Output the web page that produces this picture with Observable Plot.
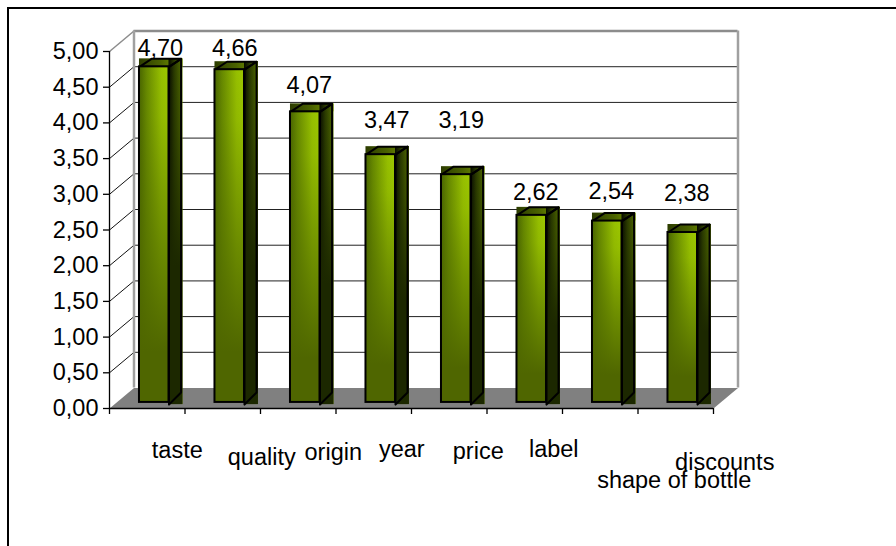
<!DOCTYPE html>
<html>
<head>
<meta charset="utf-8">
<script src="https://cdn.jsdelivr.net/npm/d3@7"></script>
<script src="https://cdn.jsdelivr.net/npm/@observablehq/plot@0.6"></script>
<style>
  html, body { margin: 0; padding: 0; background: #fff; overflow: hidden; }
  #page { position: relative; width: 896px; height: 546px; }
  #frame { position: absolute; left: 7px; top: 7px; right: 0; bottom: 0; border-left: 2.5px solid #000; border-top: 2.5px solid #000; }
  #chart { position: absolute; left: 0; top: 0; }
  #chart svg { display: block; overflow: visible; }
</style>
</head>
<body>
<div id="page"><div id="frame"></div><div id="chart"></div></div>
<script>
// Survey scores per wine attribute
const categories = ["taste", "quality", "origin", "year", "price", "label", "shape of bottle", "discounts"];
const scores = [4.70, 4.66, 4.07, 3.47, 3.19, 2.62, 2.54, 2.38];
const gridValues = [0, 0.5, 1, 1.5, 2, 2.5, 3, 3.5, 4, 4.5, 5];

// Hand placed label offsets, in pixels
const valueLabelDx = [13, 12, 11, 13, 12, 11, 11, 11];
const valueLabelDy = [-24, -27, -32, -40, -60, -29, -36, -45];
const categoryLabelDx = [30, 39, 35, 28, 29, 29, 74, 49];
const categoryLabelDy = [42, 49, 44, 41, 43, 41, 72, 54];

// Oblique projection, in scale units: one step of x is a category, one of y a score
const wallDx = 0.3245, wallDy = 0.287;
const barLeft = 0.397, barRight = 0.788, baseLift = 0.085;
const sideDx = 0.16, topLift = 0.112, sideDrop = 0.03, sideRise = 0.14, panelBleed = 0.025;

const comma = v => v.toFixed(2).replace(".", ",");
const xMax = categories.length;

const bars = scores.map((value, i) => ({
  id: i,
  name: categories[i],
  value,
  x1: i + barLeft,
  x2: i + barRight,
  x3: i + barRight + sideDx,
  x4: i + barRight + sideDx + panelBleed,
  base: baseLift,
  top: value + baseLift,
  back: value + baseLift + topLift
}));

const sideFaces = bars.flatMap(b => [
  {id: b.id, x: b.x2, y: b.top},
  {id: b.id, x: b.x3, y: b.back},
  {id: b.id, x: b.x3, y: b.base + sideRise},
  {id: b.id, x: b.x2, y: b.base - sideDrop}
]);
const topFaces = bars.flatMap(b => [
  {id: b.id, x: b.x1, y: b.top},
  {id: b.id, x: b.x1 + sideDx, y: b.back},
  {id: b.id, x: b.x3, y: b.back},
  {id: b.id, x: b.x2, y: b.top}
]);
const floor = [
  {x: 0, y: 0},
  {x: xMax, y: 0},
  {x: xMax + wallDx, y: wallDy},
  {x: wallDx, y: wallDy}
];

// Shading for the faces of the bars
function gradients() {
  const defs = d3.create("svg:defs");
  const add = (id, stops, vertical) => {
    const g = defs.append("linearGradient").attr("id", id)
      .attr("x1", 0).attr("y1", 0)
      .attr("x2", vertical ? 0 : 1).attr("y2", vertical ? 1 : 0);
    for (const [offset, color, opacity] of stops) {
      g.append("stop").attr("offset", offset).attr("stop-color", color)
        .attr("stop-opacity", opacity === undefined ? 1 : opacity);
    }
  };
  add("frontLight", [[0, "#486400"], [0.25, "#668800"], [0.75, "#96bf00"], [1, "#9dc800"]]);
  add("frontFade", [[0, "#4f6800", 0], [0.15, "#4f6800", 0.08], [0.55, "#526c00", 0.65], [0.85, "#4f6600", 1], [1, "#4f6600", 1]], true);
  add("sideLight", [[0, "#050800"], [0.4, "#2a3a00"], [0.85, "#4a6200"], [1, "#6a8c00"]]);
  add("sideFade", [[0, "#1c2800", 0], [0.2, "#1c2800", 0.25], [0.6, "#1c2800", 1], [1, "#1c2800", 1]], true);
  add("topLight", [[0, "#2c3c00"], [0.5, "#4a6200"], [1, "#7c9c00"]]);
  return defs.node();
}

const ink = "#000";
const wallGray = "#8c8c8c";
const textFont = "Liberation Sans, Arial, sans-serif";

const chart = Plot.plot({
  width: 896,
  height: 546,
  marginLeft: 109,
  marginRight: 183,
  marginTop: 51,
  marginBottom: 138,
  style: {background: "transparent", fontFamily: textFont, fontSize: "23.5px", color: "#000"},
  x: {domain: [0, xMax], axis: null},
  y: {domain: [0, 5], axis: null},
  marks: [
    gradients,

    // Floor and back wall
    Plot.line(floor, {x: "x", y: "y", fill: "#808080", stroke: "none", curve: "linear-closed"}),
    Plot.ruleY(gridValues.filter(v => v > 0 && v < 5), {y: v => v + wallDy, x1: wallDx, x2: xMax + wallDx, stroke: "#222", strokeWidth: 1}),
    Plot.link(gridValues.filter(v => v > 0 && v < 5), {x1: 0, y1: v => v, x2: wallDx, y2: v => v + wallDy, stroke: "#111", strokeWidth: 1}),
    Plot.link([5], {x1: 0, y1: v => v, x2: wallDx, y2: v => v + wallDy, stroke: wallGray, strokeWidth: 1.5}),
    Plot.ruleY([5], {y: v => v + wallDy, x1: wallDx, x2: xMax + wallDx, stroke: wallGray, strokeWidth: 2.5}),
    Plot.ruleX([wallDx, xMax + wallDx], {y1: wallDy, y2: 5 + wallDy, stroke: "#a0a0a0", strokeWidth: 2.5}),

    // Bars: top and side panels first, front face over them
    Plot.rect(bars, {x1: "x1", x2: "x4", y1: "top", y2: "back", fill: "url(#topLight)"}),
    Plot.rect(bars, {x1: "x2", x2: "x4", y1: d => d.base - sideDrop, y2: "back", fill: "url(#sideLight)"}),
    Plot.rect(bars, {x1: "x2", x2: "x4", y1: d => d.base - sideDrop, y2: "back", fill: "url(#sideFade)"}),
    Plot.line(topFaces, {x: "x", y: "y", z: "id", stroke: ink, strokeWidth: 2, fill: "none", curve: "linear-closed"}),
    Plot.line(sideFaces, {x: "x", y: "y", z: "id", stroke: ink, strokeWidth: 2, fill: "none", curve: "linear-closed"}),
    Plot.rect(bars, {x1: "x1", x2: "x2", y1: "base", y2: "top", fill: "url(#frontLight)"}),
    Plot.rect(bars, {x1: "x1", x2: "x2", y1: "base", y2: "top", fill: "url(#frontFade)", stroke: ink, strokeWidth: 2}),

    // Front axes
    Plot.ruleX([0], {y1: 0, y2: 5, stroke: ink, strokeWidth: 1.3}),
    Plot.ruleY([0], {x1: 0, x2: xMax, stroke: ink, strokeWidth: 1.3}),
    Plot.axisY({ticks: gridValues, tickFormat: comma, tickSize: 6, tickPadding: 5, stroke: ink, strokeWidth: 1.3, fontSize: 23.5}),
    Plot.axisX({ticks: d3.range(xMax + 1), tickFormat: () => "", tickSize: 6, stroke: ink, strokeWidth: 1.3}),

    // Value labels
    ...bars.map((b, i) => Plot.text([b], {
      x: d => d.id + 0.5,
      y: "value",
      text: d => comma(d.value),
      dx: valueLabelDx[i],
      dy: valueLabelDy[i],
      fontSize: 23.5,
      fill: ink
    })),

    // Category labels
    ...bars.map((b, i) => Plot.text([b], {
      x: d => d.id + 0.5,
      y: 0,
      text: "name",
      dx: categoryLabelDx[i],
      dy: categoryLabelDy[i],
      fontSize: 23.5,
      fill: ink
    }))
  ]
});

document.getElementById("chart").append(chart);
</script>
</body>
</html>
